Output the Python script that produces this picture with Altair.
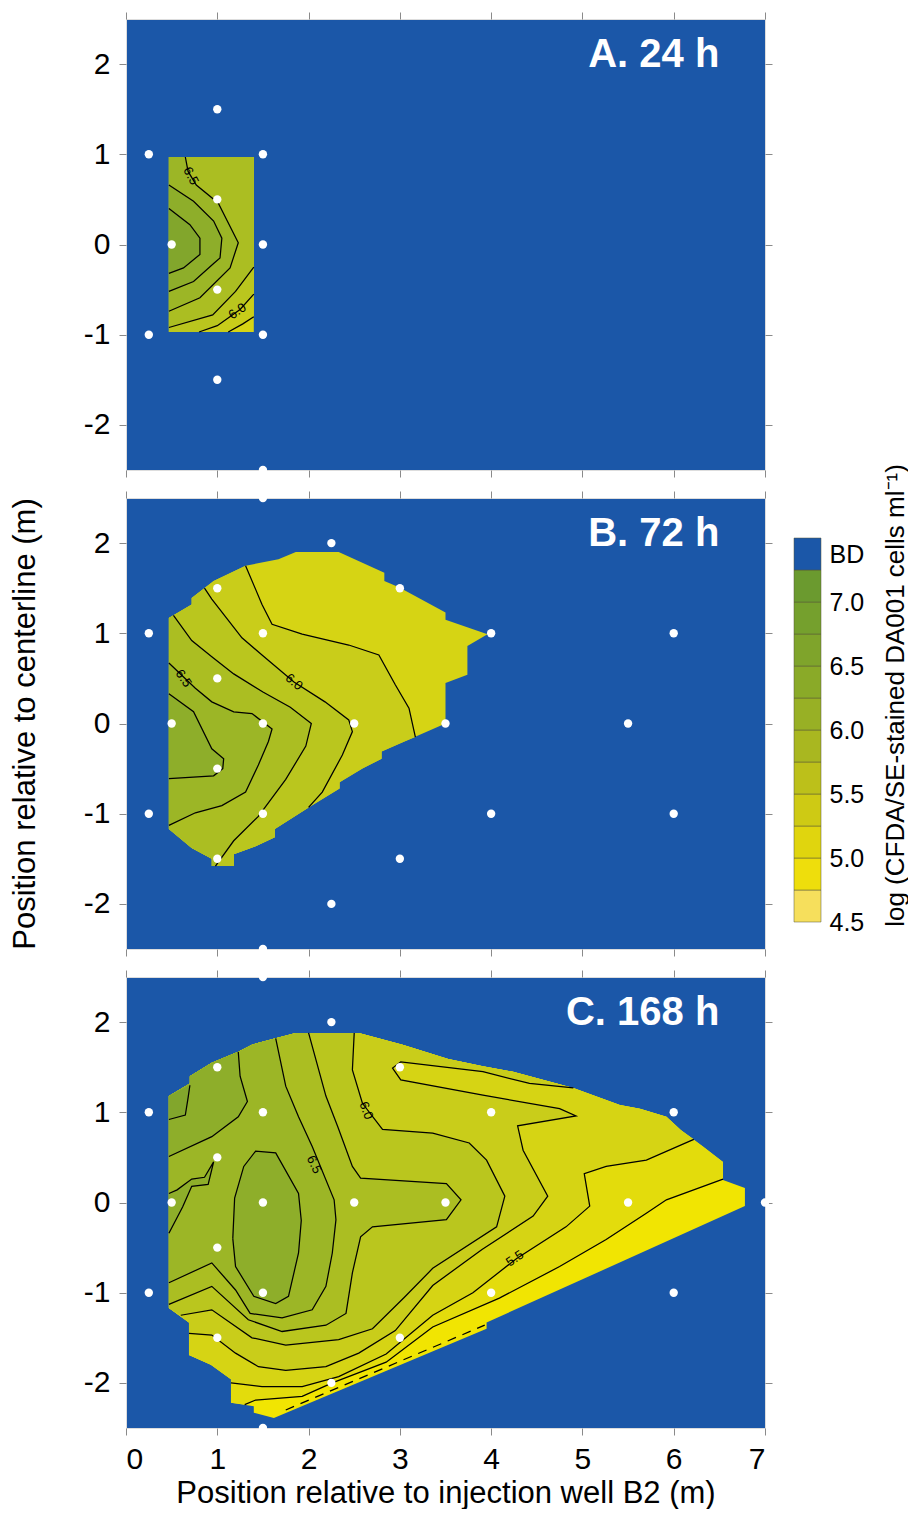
import altair as alt
import pandas as pd

FONT = "Liberation Sans, Arial, Helvetica, sans-serif"
BLUE = "#1B57A8"

# ---------------- axis / text content ----------------
X_TICKS = [0, 1, 2, 3, 4, 5, 6, 7]
Y_TICKS = [-2, -1, 0, 1, 2]
X_TITLE = "Position relative to injection well B2 (m)"
Y_TITLE = "Position relative to centerline (m)"
LEGEND_TITLE = "log (CFDA/SE-stained DA001 cells ml\u207b\u00b9)"
PANEL_TITLES = ["A. 24 h", "B. 72 h", "C. 168 h"]
PANEL_TITLE_POS = (6.5, 2.1)

# ---------------- colour bands (lower bound of each 0.25 band) ----------------
BANDS = [4.5, 4.75, 5.0, 5.25, 5.5, 5.75, 6.0, 6.25, 6.5, 6.75, 7.0]
PANEL_COLORS = ["#F5E24E", "#F4E60E", "#F1E502", "#E3DC0C", "#D6D414", "#C9CD1A",
                "#BAC61E", "#ABBE22", "#9CB626", "#8EAE2A", "#82A62C"]
LEGEND_COLORS = ["#F6DF5C", "#EEDE0C", "#E0D50E", "#CECA14", "#BCC01A", "#A9B720",
                 "#98B025", "#8AAA28", "#7FA42B", "#75A02D", "#6B9A2F"]
LEGEND_TICKS = [7.375, 7.0, 6.5, 6.0, 5.5, 5.0, 4.5]

# ---------------- panel A (24 h) ----------------
A_DOMAIN_X = [0.47, 1.40, 1.40, 0.47]
A_DOMAIN_Y = [-0.97, -0.97, 0.97, 0.97]
A_BASE = 5.5
A_CONTOURS = [
    (5.75, [1.12, 1.28, 1.40], [-0.97, -0.88, -0.80]),
    (6.0, [0.80, 1.00, 1.25, 1.40], [-0.97, -0.90, -0.72, -0.55]),
    (6.25, [0.47, 0.95, 1.20, 1.40], [-0.92, -0.78, -0.52, -0.25]),
    (6.5, [0.47, 0.81, 1.14, 1.23, 1.01, 0.77, 0.68, 0.65],
          [-0.74, -0.59, -0.26, 0.02, 0.46, 0.66, 0.81, 0.97]),
    (6.75, [0.47, 0.74, 0.96, 1.03, 1.05, 0.96, 0.74, 0.47],
           [-0.52, -0.41, -0.21, -0.15, 0.07, 0.26, 0.48, 0.66]),
    (7.0, [0.47, 0.63, 0.81, 0.81, 0.70, 0.47], [-0.32, -0.26, -0.11, 0.07, 0.22, 0.40]),
]
A_PTS_X = [0.25, 1, 1.5, 1, 0.5, 1.5, 1, 0.25, 1.5, 1, 1.5]
A_PTS_Y = [1, 1.5, 1, 0.5, 0, 0, -0.5, -1, -1, -1.5, -2.5]
A_CLABELS = [("6.5", 0.71, 0.76, 62), ("6.0", 1.22, -0.74, 325)]

# ---------------- panel B (72 h) ----------------
B_DOMAIN_X = [0.47, 0.72, 0.94, 0.94, 1.18, 1.18, 1.42, 1.63, 1.63, 2.00, 2.34, 2.34, 2.59,
              2.80, 2.80, 3.05, 3.50, 3.50, 3.74, 3.74, 3.96, 3.50, 3.50, 2.99, 2.83, 2.83,
              2.33, 1.86, 1.67, 1.31, 0.96, 0.72, 0.72, 0.47]
B_DOMAIN_Y = [-1.17, -1.38, -1.50, -1.58, -1.58, -1.45, -1.36, -1.26, -1.17, -0.93, -0.72,
              -0.65, -0.50, -0.39, -0.31, -0.20, 0.00, 0.45, 0.54, 0.86, 0.99, 1.15, 1.23,
              1.51, 1.58, 1.67, 1.90, 1.90, 1.82, 1.75, 1.58, 1.39, 1.32, 1.17]
B_BASE = 5.5
B_CONTOURS = [
    (5.75, [3.17, 3.10, 2.95, 2.77, 2.44, 1.93, 1.60, 1.49, 1.31],
           [-0.15, 0.17, 0.43, 0.76, 0.87, 0.99, 1.10, 1.32, 1.75]),
    (6.0, [2.00, 2.15, 2.37, 2.48, 2.44, 2.18, 1.84, 1.49, 1.27, 0.94, 0.86],
          [-0.93, -0.76, -0.35, -0.09, 0.04, 0.24, 0.46, 0.76, 0.95, 1.38, 1.50]),
    (6.25, [0.98, 1.18, 1.45, 1.75, 1.97, 2.03, 1.80, 1.50, 1.18, 0.94, 0.72, 0.52],
           [-1.58, -1.30, -1.03, -0.62, -0.25, 0.00, 0.18, 0.35, 0.55, 0.74, 0.92, 1.20]),
    (6.5, [0.47, 0.76, 1.05, 1.31, 1.45, 1.56, 1.60, 1.38, 1.18, 0.94, 0.76, 0.47],
          [-1.13, -0.99, -0.91, -0.76, -0.46, -0.20, -0.06, 0.11, 0.13, 0.24, 0.39, 0.67]),
    (6.75, [0.47, 0.96, 1.06, 1.07, 0.94, 0.74, 0.47],
           [-0.61, -0.58, -0.50, -0.39, -0.28, 0.13, 0.33]),
]
B_PTS_X = [1.5, 2.25, 1, 3, 0.25, 1.5, 4, 6, 1, 0.5, 1.5, 2.5, 3.5, 5.5, 1, 0.25, 1.5, 4, 6,
           1, 3, 2.25, 1.5]
B_PTS_Y = [2.5, 2, 1.5, 1.5, 1, 1, 1, 1, 0.5, 0, 0, 0, 0, 0, -0.5, -1, -1, -1, -1, -1.5,
           -1.5, -2, -2.5]
B_CLABELS = [("6.5", 0.63, 0.50, 55), ("6.0", 1.84, 0.46, 40)]

# ---------------- panel C (168 h) ----------------
C_DOMAIN_X = [0.47, 0.69, 0.69, 0.93, 1.15, 1.15, 1.40, 1.40, 1.62, 3.95, 3.95, 6.78, 6.78,
              6.54, 6.54, 6.32, 6.08, 5.92, 5.63, 5.41, 4.90, 4.24, 3.91, 3.53, 3.03, 2.55,
              1.86, 1.64, 1.38, 1.23, 0.94, 0.70, 0.70, 0.47]
C_DOMAIN_Y = [-1.17, -1.33, -1.69, -1.80, -1.96, -2.22, -2.26, -2.33, -2.39, -1.40, -1.33,
              -0.04, 0.16, 0.25, 0.45, 0.62, 0.80, 0.95, 1.04, 1.08, 1.27, 1.45, 1.51, 1.59,
              1.75, 1.88, 1.88, 1.82, 1.75, 1.67, 1.55, 1.40, 1.32, 1.18]
C_BASE = 5.0
C_CONTOURS = [
    (5.25, [1.30, 1.42, 1.93, 2.26, 2.85, 3.36, 4.09, 4.75, 5.26, 5.70, 5.92, 6.54],
           [-2.24, -2.19, -2.15, -2.00, -1.77, -1.38, -1.06, -0.71, -0.41, -0.12, 0.03, 0.26]),
    (5.5, [1.15, 1.49, 1.93, 2.33, 2.85, 3.36, 3.80, 4.28, 4.82, 5.08, 5.02, 5.26, 5.70, 6.22],
          [-2.00, -2.04, -2.04, -1.93, -1.68, -1.25, -1.00, -0.62, -0.27, -0.04, 0.32, 0.40,
           0.47, 0.70]),
    (5.75, [0.69, 0.94, 1.20, 1.45, 1.75, 2.19, 2.55, 2.95, 3.36, 3.90, 4.46, 4.62, 4.35, 4.29,
            4.93, 4.75, 3.91, 3.01, 2.92, 3.01, 3.91, 4.42, 4.90],
           [-1.45, -1.47, -1.67, -1.82, -1.86, -1.82, -1.67, -1.42, -0.92, -0.52, -0.15, 0.07,
            0.58, 0.85, 0.96, 1.04, 1.19, 1.36, 1.49, 1.56, 1.45, 1.32, 1.27]),
    (6.0, [0.60, 0.94, 1.38, 1.75, 2.33, 2.70, 3.05, 3.36, 4.06, 4.15, 3.95, 3.76, 3.36, 2.81,
           2.59, 2.48, 2.50],
          [-1.25, -1.19, -1.50, -1.58, -1.52, -1.40, -1.05, -0.73, -0.27, 0.07, 0.47, 0.66,
           0.77, 0.81, 1.10, 1.47, 1.88]),
    (6.25, [0.47, 0.94, 1.34, 1.71, 2.19, 2.41, 2.48, 2.57, 2.70, 3.51, 3.67, 3.51, 2.57, 2.48,
            2.32, 2.19, 2.00],
           [-1.13, -0.93, -1.30, -1.43, -1.36, -1.23, -0.78, -0.38, -0.27, -0.19, 0.03, 0.21,
            0.27, 0.40, 0.84, 1.18, 1.88]),
    (6.5, [0.47, 0.94, 1.20, 1.36, 1.71, 2.04, 2.19, 2.26, 2.30, 2.28, 2.04, 1.89, 1.75, 1.64],
          [-0.89, -0.67, -0.97, -1.23, -1.28, -1.19, -0.93, -0.56, -0.19, 0.03, 0.62, 0.95,
           1.29, 1.82]),
    (6.75, [1.17, 1.20, 1.40, 1.64, 1.78, 1.89, 1.92, 1.89, 1.64, 1.42, 1.29, 1.19, 1.17],
           [-0.40, -0.71, -1.04, -1.12, -1.04, -0.56, -0.20, 0.10, 0.55, 0.57, 0.40, 0.05, -0.40]),
    (6.75, [0.47, 0.94, 1.23, 1.33, 1.25, 1.23], [0.51, 0.73, 0.95, 1.12, 1.40, 1.67]),
    (6.75, [0.47, 0.62, 0.72, 0.90, 0.96, 0.86, 0.72, 0.56, 0.47],
           [-0.34, -0.05, 0.18, 0.20, 0.45, 0.28, 0.26, 0.14, 0.10]),
    (7.0, [0.47, 0.65, 0.68, 0.70], [0.92, 0.97, 1.16, 1.30]),
]
C_DASHED_X = [1.75, 3.93]
C_DASHED_Y = [-2.30, -1.36]
C_PTS_X = B_PTS_X + [7]
C_PTS_Y = B_PTS_Y + [0]
C_CLABELS = [("6.0", 2.63, 1.02, 70), ("6.5", 2.06, 0.42, 65), ("5.5", 4.26, -0.62, 325)]


# ---------------- helpers: superlevel region = contour + domain boundary ----------------
def locate(dom, p):
    px, py = p
    best = (1e18, 0, 0.0)
    n = len(dom)
    for k in range(n):
        ax, ay = dom[k]
        bx, by = dom[(k + 1) % n]
        dx, dy = bx - ax, by - ay
        l2 = dx * dx + dy * dy
        t = 0.0 if l2 == 0 else max(0.0, min(1.0, ((px - ax) * dx + (py - ay) * dy) / l2))
        qx, qy = ax + t * dx, ay + t * dy
        d = (px - qx) ** 2 + (py - qy) ** 2
        if d < best[0] - 1e-12:
            best = (d, k, t)
    return best[1], best[2]


def region(dom, xs, ys):
    pts = list(zip(xs, ys))
    if abs(xs[0] - xs[-1]) < 1e-9 and abs(ys[0] - ys[-1]) < 1e-9:
        return pts
    ka, ta = locate(dom, pts[0])
    kb, tb = locate(dom, pts[-1])
    n = len(dom)
    walk = []
    if not (ka == kb and ta >= tb):
        k = kb
        while True:
            k = (k + 1) % n
            walk.append(dom[k])
            if k == ka:
                break
    return pts + walk


def band_name(v):
    return f"{v:.2f}"


XS = alt.Scale(domain=[0, 7], nice=False, zero=False)
YS = alt.Scale(domain=[-2.5, 2.5], nice=False, zero=False)
PANEL_FILL = alt.Scale(domain=[band_name(b) for b in BANDS], range=PANEL_COLORS)
TICK_COLOR = "#8a8a8a"


def panel(key, title, dom_x, dom_y, base, contours, pts_x, pts_y, clabels,
          dashed=None, show_x=False, show_ytitle=False):
    dom = list(zip(dom_x, dom_y))
    polys = [(base, dom)]
    for lev, xs, ys in sorted(contours, key=lambda c: c[0]):
        polys.append((lev, region(dom, xs, ys)))
    reg_rows = []
    for pid, (lev, poly) in enumerate(polys):
        for i, (x, y) in enumerate(poly):
            reg_rows.append({"pid": f"{key}{pid:03d}", "i": i, "x": x, "y": y,
                             "band": band_name(lev)})
    line_rows = []
    for lid, (lev, xs, ys) in enumerate(contours):
        for i, (x, y) in enumerate(zip(xs, ys)):
            line_rows.append({"lid": f"{key}{lid:03d}", "i": i, "x": x, "y": y})

    bottom_axis = alt.Axis(orient="bottom", values=X_TICKS, tickSize=7, tickColor=TICK_COLOR,
                           domain=False, grid=False, labels=show_x, labelFont=FONT,
                           labelFontSize=30, labelColor="black", labelPadding=9,
                           title=X_TITLE if show_x else None, titleFont=FONT,
                           titleFontSize=31, titleFontWeight="normal", titleColor="black",
                           titlePadding=4)
    left_axis = alt.Axis(orient="left", values=Y_TICKS, tickSize=7, tickColor=TICK_COLOR,
                         domain=False, grid=False, labelFont=FONT, labelFontSize=30,
                         labelColor="black", labelPadding=9, labelExpr="'' + datum.value",
                         title=Y_TITLE if show_ytitle else None, titleFont=FONT,
                         titleFontSize=31, titleFontWeight="normal", titleColor="black",
                         titlePadding=42)
    top_axis = alt.Axis(orient="top", values=X_TICKS, tickSize=7, tickColor=TICK_COLOR,
                        domain=False, grid=False, labels=False, title=None)
    right_axis = alt.Axis(orient="right", values=Y_TICKS, tickSize=7, tickColor=TICK_COLOR,
                          domain=False, grid=False, labels=False, title=None)

    regions = alt.Chart(pd.DataFrame(reg_rows)).mark_line(
        strokeWidth=0, strokeOpacity=0, interpolate="linear"
    ).encode(
        x=alt.X("x:Q", scale=XS, axis=bottom_axis),
        y=alt.Y("y:Q", scale=YS, axis=left_axis),
        detail="pid:N",
        order="i:Q",
        fill=alt.Fill("band:N", scale=PANEL_FILL, legend=None),
    )
    lines = alt.Chart(pd.DataFrame(line_rows)).mark_line(
        color="black", strokeWidth=1.25
    ).encode(
        x=alt.X("x:Q", scale=XS, axis=top_axis),
        y=alt.Y("y:Q", scale=YS, axis=right_axis),
        detail="lid:N",
        order="i:Q",
    )
    layers = [regions, lines]
    if dashed is not None:
        ddf = pd.DataFrame({"x": dashed[0], "y": dashed[1], "i": list(range(len(dashed[0])))})
        layers.append(alt.Chart(ddf).mark_line(color="black", strokeWidth=1.25,
                                               strokeDash=[9, 7]).encode(
            x=alt.X("x:Q", scale=XS, axis=None), y=alt.Y("y:Q", scale=YS, axis=None),
            order="i:Q"))
    ldf = pd.DataFrame(clabels, columns=["t", "x", "y", "ang"])
    layers.append(alt.Chart(ldf).mark_text(font=FONT, fontSize=13, color="black").encode(
        x=alt.X("x:Q", scale=XS, axis=None), y=alt.Y("y:Q", scale=YS, axis=None),
        text="t:N", angle=alt.Angle("ang:Q", scale=None)))
    pdf = pd.DataFrame({"x": pts_x, "y": pts_y})
    layers.append(alt.Chart(pdf).mark_circle(size=70, color="white", opacity=1).encode(
        x=alt.X("x:Q", scale=XS, axis=None), y=alt.Y("y:Q", scale=YS, axis=None)))
    tdf = pd.DataFrame({"x": [PANEL_TITLE_POS[0]], "y": [PANEL_TITLE_POS[1]], "t": [title]})
    layers.append(alt.Chart(tdf).mark_text(align="right", baseline="middle", font=FONT,
                                           fontSize=40, fontWeight="bold",
                                           color="white").encode(
        x=alt.X("x:Q", scale=XS, axis=None), y=alt.Y("y:Q", scale=YS, axis=None),
        text="t:N"))
    return alt.layer(*layers).properties(width=639, height=451,
                                         view=alt.ViewBackground(fill=BLUE))


pa = panel("A", PANEL_TITLES[0], A_DOMAIN_X, A_DOMAIN_Y, A_BASE, A_CONTOURS,
           A_PTS_X, A_PTS_Y, A_CLABELS)
pb = panel("B", PANEL_TITLES[1], B_DOMAIN_X, B_DOMAIN_Y, B_BASE, B_CONTOURS,
           B_PTS_X, B_PTS_Y, B_CLABELS, show_ytitle=True)
pc = panel("C", PANEL_TITLES[2], C_DOMAIN_X, C_DOMAIN_Y, C_BASE, C_CONTOURS,
           C_PTS_X, C_PTS_Y, C_CLABELS, dashed=(C_DASHED_X, C_DASHED_Y), show_x=True)

panels = alt.vconcat(pa, pb, pc, spacing=28, bounds="flush")

# ---------------- legend ----------------
leg_rows = [{"lo": b, "hi": b + 0.25, "lband": band_name(b)} for b in BANDS]
leg_rows.append({"lo": 7.25, "hi": 7.5, "lband": "BD"})
LEG_PX_PER_UNIT = 128.0
LEG_HEIGHT = 910
LEG_VIEW_TOP = 19
LEG_TOP_VALUE = 7.5 + (538 - LEG_VIEW_TOP) / LEG_PX_PER_UNIT
LEG_DOMAIN = [LEG_TOP_VALUE - LEG_HEIGHT / LEG_PX_PER_UNIT, LEG_TOP_VALUE]

leg_axis = alt.Axis(orient="right", values=LEGEND_TICKS, ticks=False, domain=False, grid=False,
                    labelFont=FONT, labelFontSize=25, labelColor="black", labelPadding=8,
                    labelOverlap=False,
                    labelExpr="datum.value > 7.3 ? 'BD' : format(datum.value, '.1f')",
                    title=LEGEND_TITLE, titleFont=FONT, titleFontSize=26,
                    titleFontWeight="normal", titleColor="black", titleAngle=270,
                    titleBaseline="middle", titleAlign="center",
                    titleX=74, titleY=676)
legend = alt.Chart(pd.DataFrame(leg_rows)).mark_rect(stroke="#55553a", strokeWidth=0.5).encode(
    y=alt.Y("lo:Q", scale=alt.Scale(domain=LEG_DOMAIN, nice=False, zero=False), axis=leg_axis),
    y2="hi:Q",
    fill=alt.Fill("lband:N",
                  scale=alt.Scale(domain=[band_name(b) for b in BANDS] + ["BD"],
                                  range=LEGEND_COLORS + [BLUE]),
                  legend=None),
).properties(width=27, height=LEG_HEIGHT,
             view=alt.ViewBackground(stroke="transparent", strokeWidth=0, fill="transparent"))

chart = alt.hconcat(panels, legend, spacing=20).resolve_scale(fill="independent").properties(
    padding={"left": 0, "top": 3, "right": 0, "bottom": 0}
).configure_view(strokeWidth=0, stroke="transparent").configure(font=FONT)

chart.save("out.html", embed_options={"renderer": "svg", "actions": False})
